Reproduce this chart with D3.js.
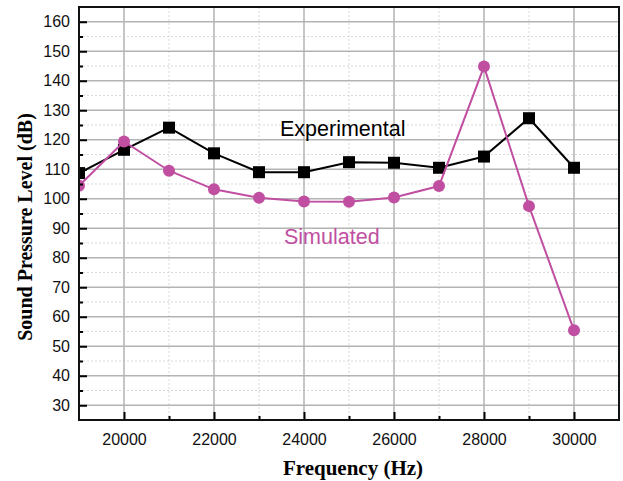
<!DOCTYPE html>
<html>
<head>
<meta charset="utf-8">
<script src="https://cdn.jsdelivr.net/npm/d3@7/dist/d3.min.js"></script>
<style>
  html, body { margin: 0; padding: 0; background: #fff; }
  svg { display: block; }
</style>
</head>
<body>
<svg id="chart" width="623" height="481"></svg>
<script>
const frequencies = [19000, 20000, 21000, 22000, 23000, 24000, 25000, 26000, 27000, 28000, 29000, 30000];
const experimental = [108.7, 116.6, 124.1, 115.4, 109.0, 109.0, 112.4, 112.2, 110.5, 114.3, 127.3, 110.5];
const simulated = [104.4, 119.4, 109.5, 103.2, 100.3, 99.1, 99.0, 100.4, 104.3, 144.8, 97.5, 55.4];
const xTickValues = [20000, 22000, 24000, 26000, 28000, 30000];
const yTickValues = [30, 40, 50, 60, 70, 80, 90, 100, 110, 120, 130, 140, 150, 160];
const seriesLabels = ["Experimental", "Simulated"];
const xTitle = "Frequency (Hz)";
const yTitle = "Sound Pressure Level (dB)";

const svg = d3.select("#chart");
const L = 79, R = 619, T = 7, B = 420;
const x = d3.scaleLinear().domain([19000, 31000]).range([L, R]);
const y = d3.scaleLinear().domain([25, 165]).range([B, T]);
const magenta = "#c04fa1";

// minor grid
const xMinor = d3.range(21000, 30000, 2000);
const yMinor = d3.range(35, 165, 10);
const grid = svg.append("g");
grid.selectAll(".xm").data(xMinor).enter().append("line")
  .attr("x1", d => x(d)).attr("x2", d => x(d)).attr("y1", T).attr("y2", B)
  .attr("stroke", "#d9d9d9").attr("stroke-width", 1).attr("stroke-dasharray", "2,2");
grid.selectAll(".ym").data(yMinor).enter().append("line")
  .attr("x1", L).attr("x2", R).attr("y1", d => y(d)).attr("y2", d => y(d))
  .attr("stroke", "#d9d9d9").attr("stroke-width", 1).attr("stroke-dasharray", "2,2");
// major grid
grid.selectAll(".xM").data(xTickValues).enter().append("line")
  .attr("x1", d => x(d)).attr("x2", d => x(d)).attr("y1", T).attr("y2", B)
  .attr("stroke", "#b3b3b3").attr("stroke-width", 1.5);
grid.selectAll(".yM").data(yTickValues).enter().append("line")
  .attr("x1", L).attr("x2", R).attr("y1", d => y(d)).attr("y2", d => y(d))
  .attr("stroke", "#b3b3b3").attr("stroke-width", 1.5);

// clip
svg.append("clipPath").attr("id", "clip").append("rect")
  .attr("x", L).attr("y", T).attr("width", R - L).attr("height", B - T);
const plot = svg.append("g").attr("clip-path", "url(#clip)");

const line = d3.line().x((d, i) => x(frequencies[i])).y(d => y(d));

plot.append("path").datum(experimental).attr("d", line)
  .attr("fill", "none").attr("stroke", "#000").attr("stroke-width", 2);
plot.selectAll(".sq").data(experimental).enter().append("rect")
  .attr("x", (d, i) => x(frequencies[i]) - 6).attr("y", d => y(d) - 6)
  .attr("width", 12).attr("height", 12).attr("fill", "#000");

plot.append("path").datum(simulated).attr("d", line)
  .attr("fill", "none").attr("stroke", magenta).attr("stroke-width", 2);
plot.selectAll(".ci").data(simulated).enter().append("circle")
  .attr("cx", (d, i) => x(frequencies[i])).attr("cy", d => y(d))
  .attr("r", 6).attr("fill", magenta);

// axes (ticks inward)
const xAxis = d3.axisBottom(x).tickValues(xTickValues).tickFormat(d3.format("d")).tickSizeInner(-8).tickSizeOuter(0).tickPadding(14);
const gx = svg.append("g").attr("transform", `translate(0,${B})`).call(xAxis);
gx.select(".domain").remove();
gx.selectAll(".tick line").attr("stroke", "#000").attr("stroke-width", 2);
gx.selectAll("text").attr("font-family", "Liberation Sans, Arial, sans-serif").attr("font-size", 16).attr("fill", "#111");

const xAxisMinor = d3.axisBottom(x).tickValues(xMinor).tickFormat("").tickSizeInner(-4).tickSizeOuter(0);
const gxm = svg.append("g").attr("transform", `translate(0,${B})`).call(xAxisMinor);
gxm.select(".domain").remove();
gxm.selectAll(".tick line").attr("stroke", "#000").attr("stroke-width", 2);

const yAxis = d3.axisLeft(y).tickValues(yTickValues).tickSizeInner(-8).tickSizeOuter(0).tickPadding(9);
const gy = svg.append("g").attr("transform", `translate(${L},0)`).call(yAxis);
gy.select(".domain").remove();
gy.selectAll(".tick line").attr("stroke", "#000").attr("stroke-width", 2);
gy.selectAll("text").attr("font-family", "Liberation Sans, Arial, sans-serif").attr("font-size", 16).attr("fill", "#111");

const yAxisMinor = d3.axisLeft(y).tickValues(yMinor).tickFormat("").tickSizeInner(-4).tickSizeOuter(0);
const gym = svg.append("g").attr("transform", `translate(${L},0)`).call(yAxisMinor);
gym.select(".domain").remove();
gym.selectAll(".tick line").attr("stroke", "#000").attr("stroke-width", 2);

// frame
svg.append("rect").attr("x", L).attr("y", T).attr("width", R - L).attr("height", B - T)
  .attr("fill", "none").attr("stroke", "#111").attr("stroke-width", 2);

// series labels
svg.append("text").attr("x", 280).attr("y", 136).text(seriesLabels[0])
  .attr("font-family", "Liberation Sans, Arial, sans-serif").attr("font-size", 21.5).attr("fill", "#000");
svg.append("text").attr("x", 284).attr("y", 244).text(seriesLabels[1])
  .attr("font-family", "Liberation Sans, Arial, sans-serif").attr("font-size", 21.5).attr("fill", magenta);

// axis titles
svg.append("text").attr("x", 353).attr("y", 475).attr("text-anchor", "middle").text(xTitle)
  .attr("font-family", "Liberation Serif, Times New Roman, serif").attr("font-weight", "bold").attr("font-size", 21);
svg.append("text").attr("transform", "translate(32,227) rotate(-90)").attr("text-anchor", "middle").text(yTitle)
  .attr("font-family", "Liberation Serif, Times New Roman, serif").attr("font-weight", "bold").attr("font-size", 20);
</script>
</body>
</html>
